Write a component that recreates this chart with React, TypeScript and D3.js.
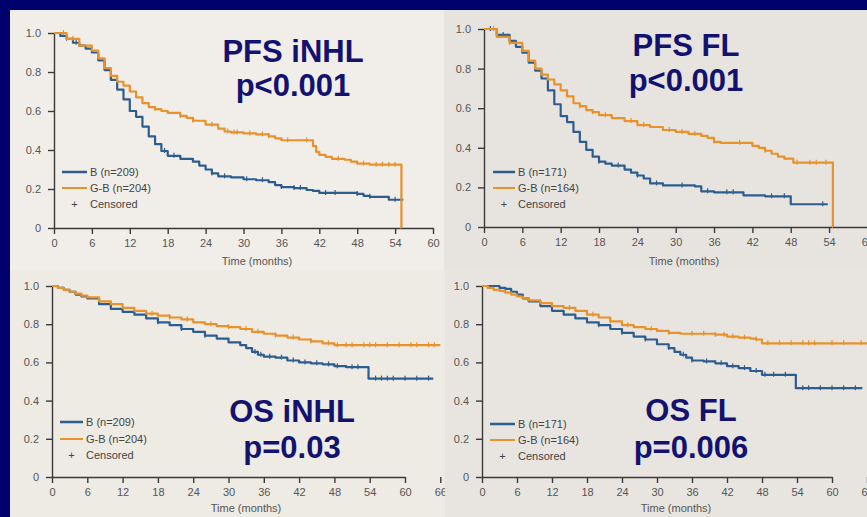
import React, { useEffect, useRef } from "react";
import * as d3 from "d3";

// ---------- Data ----------
const xTicksTop = [0, 6, 12, 18, 24, 30, 36, 42, 48, 54, 60];
const xTicksBottom = [0, 6, 12, 18, 24, 30, 36, 42, 48, 54, 60, 66];
const yTicks = [0, 0.2, 0.4, 0.6, 0.8, 1.0];

// PFS iNHL
const pfsInhlBTime = [0, 1, 2, 3, 4, 5, 6, 7, 8, 9, 10, 11, 12, 13, 14, 15, 16, 17, 18, 20, 22, 23, 24, 25, 26, 28, 30, 32, 34, 35, 36, 38, 40, 41, 42, 48, 49, 50, 53, 55.3];
const pfsInhlBSurv = [1, 0.985, 0.97, 0.95, 0.935, 0.92, 0.9, 0.86, 0.81, 0.76, 0.71, 0.66, 0.6, 0.57, 0.52, 0.47, 0.43, 0.395, 0.37, 0.355, 0.34, 0.32, 0.3, 0.28, 0.265, 0.26, 0.25, 0.245, 0.235, 0.22, 0.21, 0.205, 0.195, 0.19, 0.18, 0.175, 0.165, 0.16, 0.145, 0.145];
const pfsInhlGTime = [0, 2, 4, 6, 7, 8, 9, 10, 11, 12, 13, 14, 15, 16, 17, 18, 20, 21, 22, 24, 26, 27, 28, 30, 32, 34, 35, 36, 41, 41.5, 42, 43, 44, 46, 47, 48, 50, 55, 55.01];
const pfsInhlGSurv = [1, 0.97, 0.935, 0.91, 0.87, 0.82, 0.78, 0.75, 0.73, 0.7, 0.67, 0.64, 0.62, 0.61, 0.6, 0.59, 0.575, 0.565, 0.55, 0.53, 0.51, 0.495, 0.49, 0.485, 0.48, 0.47, 0.46, 0.45, 0.42, 0.39, 0.375, 0.365, 0.355, 0.35, 0.34, 0.33, 0.325, 0, 0];
const pfsInhlBCens = [2, 3.5, 17.5, 19, 25, 27, 30.5, 33, 36, 38, 39, 43, 44.5, 48, 50, 54, 55];
const pfsInhlGCens = [1.5, 3, 16, 20, 22, 25, 27.5, 28.5, 29, 31, 33, 34, 37, 40, 45, 49, 51, 52, 53, 54];

// PFS FL
const pfsFlBTime = [0, 2, 4, 5, 6, 7, 8, 9, 10, 11, 12, 13, 14, 15, 16, 17, 18, 19, 20, 22, 23, 24, 25, 26, 28, 33, 34, 36, 40.6, 44, 48, 53.8];
const pfsFlBSurv = [1, 0.97, 0.94, 0.91, 0.88, 0.83, 0.79, 0.75, 0.69, 0.62, 0.56, 0.53, 0.48, 0.43, 0.39, 0.355, 0.33, 0.32, 0.31, 0.29, 0.275, 0.26, 0.245, 0.22, 0.21, 0.205, 0.18, 0.175, 0.16, 0.155, 0.115, 0.115];
const pfsFlGTime = [0, 2, 4, 6, 7, 8, 9, 10, 11, 12, 13, 14, 15, 16, 17, 18, 20, 22, 24, 26, 28, 30, 32, 34, 35, 36, 37, 42, 43, 44, 45, 46, 47, 48.4, 54.6, 54.61];
const pfsFlGSurv = [1, 0.96, 0.93, 0.89, 0.84, 0.8, 0.77, 0.745, 0.72, 0.69, 0.66, 0.625, 0.61, 0.59, 0.58, 0.565, 0.55, 0.535, 0.515, 0.505, 0.49, 0.48, 0.47, 0.46, 0.45, 0.43, 0.425, 0.41, 0.4, 0.385, 0.37, 0.355, 0.345, 0.325, 0, 0];
const pfsFlBCens = [1, 3, 18, 21, 24, 27, 31, 35, 38, 39, 45, 47, 53];
const pfsFlGCens = [1.5, 4, 15, 17, 19, 23, 25, 29, 31, 33, 36, 40, 44, 49, 51, 52, 53.5];

// OS iNHL
const osInhlBTime = [0, 1, 2, 3, 4, 5, 6, 8, 10, 12, 14, 16, 18, 20, 22, 24, 26, 28, 30, 32, 33, 34, 35, 36, 38, 40, 42, 44, 46, 48, 50, 53.8, 64.8];
const osInhlBSurv = [1, 0.99, 0.98, 0.97, 0.955, 0.945, 0.935, 0.905, 0.88, 0.865, 0.85, 0.83, 0.81, 0.795, 0.775, 0.76, 0.74, 0.725, 0.705, 0.69, 0.675, 0.655, 0.64, 0.63, 0.625, 0.61, 0.6, 0.595, 0.59, 0.58, 0.575, 0.515, 0.515];
const osInhlGTime = [0, 1, 2, 3, 4, 5, 6, 8, 10, 12, 14, 16, 18, 20, 22, 24, 26, 28, 30, 32, 34, 36, 38, 40, 42, 44, 46, 48, 66];
const osInhlGSurv = [1, 0.99, 0.98, 0.97, 0.96, 0.95, 0.94, 0.92, 0.905, 0.885, 0.87, 0.855, 0.845, 0.835, 0.825, 0.81, 0.8, 0.79, 0.785, 0.775, 0.76, 0.75, 0.74, 0.73, 0.72, 0.71, 0.7, 0.69, 0.69];
const osInhlBCens = [18, 22, 26, 34.5, 35.5, 37, 39, 41, 43, 45, 47, 48.5, 51, 52, 55, 56, 57, 58, 60, 62, 64];
const osInhlGCens = [17, 20, 23, 27, 30, 33, 35, 38, 41, 44, 47, 48.5, 50, 51, 53, 54, 55, 57, 59, 61, 62, 64, 65];

// OS FL
const osFlBTime = [0, 3, 4, 5, 6, 7, 8, 10, 12, 14, 16, 18, 20, 22, 24, 26, 28, 30, 32, 33, 34, 35, 36, 38, 40, 42, 44, 46, 48, 53.8, 65.2];
const osFlBSurv = [1, 0.99, 0.985, 0.97, 0.955, 0.935, 0.92, 0.895, 0.87, 0.85, 0.83, 0.81, 0.795, 0.775, 0.755, 0.735, 0.72, 0.695, 0.675, 0.655, 0.64, 0.625, 0.61, 0.605, 0.595, 0.58, 0.57, 0.555, 0.535, 0.465, 0.465];
const osFlGTime = [0, 1, 2, 3, 4, 5, 6, 7, 8, 10, 12, 14, 16, 18, 20, 22, 24, 26, 28, 30, 32, 34, 40, 42, 44, 46, 47, 48, 66];
const osFlGSurv = [1, 0.99, 0.98, 0.975, 0.965, 0.955, 0.945, 0.935, 0.925, 0.91, 0.895, 0.885, 0.87, 0.85, 0.835, 0.815, 0.795, 0.785, 0.775, 0.765, 0.755, 0.75, 0.745, 0.735, 0.73, 0.725, 0.72, 0.7, 0.7];
const osFlBCens = [20, 24, 28, 32, 34.5, 36, 38.5, 41, 43, 45, 47, 48.5, 50, 52, 55, 56, 58, 60, 62, 64];
const osFlGCens = [15, 19, 22, 25, 29, 32, 36, 38, 40, 41.5, 43, 45, 47, 49, 51, 53, 55, 56, 57, 60, 62, 65];

const panelTitles = [["PFS iNHL", "p<0.001"], ["PFS FL", "p<0.001"], ["OS iNHL", "p=0.03"], ["OS FL", "p=0.006"]];
const legendB = ["B (n=209)", "B (n=171)", "B (n=209)", "B (n=171)"];
const legendG = ["G-B (n=204)", "G-B (n=164)", "G-B (n=204)", "G-B (n=164)"];

const BLUE = "#2d5d8e";
const ORANGE = "#e8922c";
const NAVY = "#00006c";
const TITLE = "#13136f";
const FONT = "'Liberation Sans', Arial, sans-serif";

const panels = [
  {
    rect: [10, 10, 434, 260], fill: "#f1eee9",
    xr: [54, 433], yr: [228, 33], xTicks: xTicksTop, xMax: 60,
    bT: pfsInhlBTime, bS: pfsInhlBSurv, gT: pfsInhlGTime, gS: pfsInhlGSurv, bC: pfsInhlBCens, gC: pfsInhlGCens,
    title: panelTitles[0], tx: 293, ty: [62, 96], lab: [257, 265],
    leg: [62, 87, 90, [172, 188, 204]], lb: legendB[0], lg: legendG[0],
  },
  {
    rect: [444, 10, 423, 260], fill: "#e7e4e0",
    xr: [484, 867.4], yr: [227, 29], xTicks: xTicksTop, xMax: 60,
    bT: pfsFlBTime, bS: pfsFlBSurv, gT: pfsFlGTime, gS: pfsFlGSurv, bC: pfsFlBCens, gC: pfsFlGCens,
    title: panelTitles[1], tx: 686, ty: [56, 91], lab: [684, 265],
    leg: [493, 515, 518, [172, 188, 204]], lb: legendB[1], lg: legendG[1],
  },
  {
    rect: [10, 270, 435, 247], fill: "#eeeae4",
    xr: [52, 405], yr: [477, 286], xTicks: xTicksBottom, xMax: 66,
    bT: osInhlBTime, bS: osInhlBSurv, gT: osInhlGTime, gS: osInhlGSurv, bC: osInhlBCens, gC: osInhlGCens,
    title: panelTitles[2], tx: 292, ty: [422, 458], lab: [246, 512],
    leg: [60, 83, 86, [422, 439, 455]], lb: legendB[2], lg: legendG[2],
  },
  {
    rect: [445, 270, 422, 247], fill: "#e8e5e0",
    xr: [482, 832], yr: [477, 286], xTicks: xTicksBottom, xMax: 66,
    bT: osFlBTime, bS: osFlBSurv, gT: osFlGTime, gS: osFlGSurv, bC: osFlBCens, gC: osFlGCens,
    title: panelTitles[3], tx: 691, ty: [421, 458], lab: [676, 512],
    leg: [490, 515, 518, [424, 440, 456]], lb: legendB[3], lg: legendG[3],
  },
];

export default function App() {
  const ref = useRef<SVGSVGElement>(null);

  useEffect(() => {
    const svg = d3.select(ref.current);
    svg.selectAll("*").remove();
    svg.append("rect").attr("width", 867).attr("height", 517).attr("fill", NAVY);

    panels.forEach((p, i) => {
      const [rx, ry, rw, rh] = p.rect;
      const cid = `clip${i}`;
      svg.append("clipPath").attr("id", cid).append("rect")
        .attr("x", rx).attr("y", ry).attr("width", rw).attr("height", rh);
      const g = svg.append("g").attr("clip-path", `url(#${cid})`);
      g.append("rect").attr("x", rx).attr("y", ry).attr("width", rw).attr("height", rh).attr("fill", p.fill);

      const x = d3.scaleLinear().domain([0, 60]).range(p.xr);
      const y = d3.scaleLinear().domain([0, 1]).range(p.yr);

      // axes
      const xAxis = d3.axisBottom(x).tickValues(p.xTicks).tickSize(6).tickPadding(5).tickSizeOuter(0)
        .tickFormat((d: any) => String(d));
      const gx = g.append("g").attr("transform", `translate(0,${p.yr[0]})`).call(xAxis);
      const yAxis = d3.axisLeft(y).tickValues(yTicks).tickSize(6).tickPadding(7).tickSizeOuter(0)
        .tickFormat((d: any) => (d === 0 ? "0" : d3.format(".1f")(d)));
      const gy = g.append("g").attr("transform", `translate(${p.xr[0]},0)`).call(yAxis);
      [gx, gy].forEach((a) => {
        a.select(".domain").attr("stroke", "#3a3a3a").attr("stroke-width", 1.4);
        a.selectAll(".tick line").attr("stroke", "#3a3a3a").attr("stroke-width", 1.4);
        a.selectAll(".tick text").attr("fill", "#555").attr("font-size", 11).attr("font-family", FONT);
      });

      g.append("text").attr("x", p.lab[0]).attr("y", p.lab[1]).attr("text-anchor", "middle")
        .attr("font-family", FONT).attr("font-size", 11).attr("fill", "#555").text("Time (months)");

      // curves
      const line = d3.line<number>().curve(d3.curveStepAfter);
      const drawCurve = (T: number[], S: number[], C: number[], color: string) => {
        const pts: [number, number][] = T.map((t, k) => [x(t), y(S[k])]);
        g.append("path").attr("d", line(pts as any)).attr("fill", "none")
          .attr("stroke", color).attr("stroke-width", 2.2).attr("stroke-linejoin", "round");
        const bis = d3.bisector((d: number) => d).right;
        C.forEach((c) => {
          const k = Math.max(0, bis(T, c) - 1);
          const cx = x(c), cy = y(S[k]);
          g.append("line").attr("x1", cx).attr("x2", cx).attr("y1", cy - 3).attr("y2", cy + 2)
            .attr("stroke", color).attr("stroke-width", 1.2);
        });
      };
      drawCurve(p.bT, p.bS, p.bC, BLUE);
      drawCurve(p.gT, p.gS, p.gC, ORANGE);

      // legend
      const [l0, l1, tx, rows] = p.leg as [number, number, number, number[]];
      g.append("line").attr("x1", l0).attr("x2", l1).attr("y1", rows[0]).attr("y2", rows[0])
        .attr("stroke", BLUE).attr("stroke-width", 2.5);
      g.append("line").attr("x1", l0).attr("x2", l1).attr("y1", rows[1]).attr("y2", rows[1])
        .attr("stroke", ORANGE).attr("stroke-width", 2);
      g.append("text").attr("x", (l0 + l1) / 2).attr("y", rows[2] + 4).attr("text-anchor", "middle")
        .attr("font-family", FONT).attr("font-size", 11).attr("fill", "#444").text("+");
      [p.lb, p.lg, "Censored"].forEach((s, k) => {
        g.append("text").attr("x", tx).attr("y", rows[k] + 4).attr("font-family", FONT)
          .attr("font-size", 11).attr("fill", "#444").text(s);
      });

      // titles
      p.title.forEach((s, k) => {
        g.append("text").attr("x", p.tx).attr("y", p.ty[k]).attr("text-anchor", "middle")
          .attr("font-family", FONT).attr("font-weight", "bold").attr("font-size", 31)
          .attr("fill", TITLE).text(s);
      });
    });
  }, []);

  return (
    <svg ref={ref} width={867} height={517}
      style={{ position: "absolute", left: 0, top: 0, display: "block" }} />
  );
}
